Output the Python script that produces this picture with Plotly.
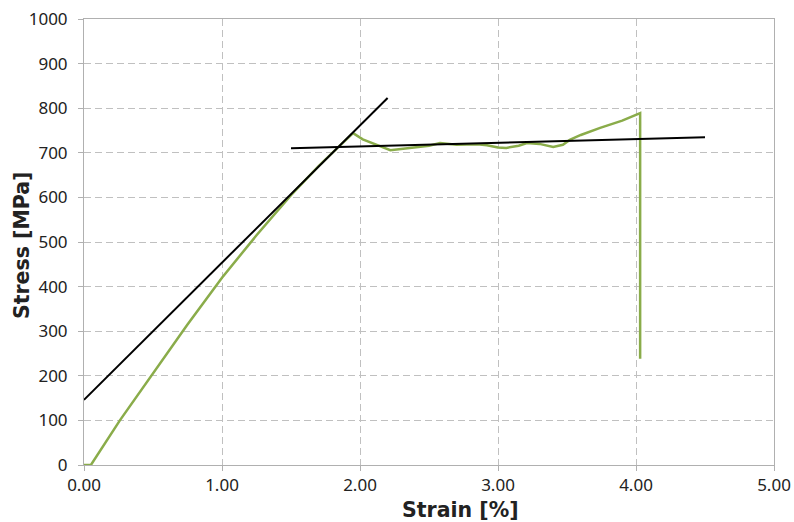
import plotly.graph_objects as go

strain = [0.0, 0.05, 0.26, 0.5, 0.75, 1.0, 1.25, 1.5, 1.7, 1.85, 1.95, 2.02, 2.13, 2.22, 2.36, 2.5, 2.58, 2.7, 2.85, 2.92, 3.0, 3.06, 3.15, 3.21, 3.3, 3.4, 3.47, 3.52, 3.6, 3.74, 3.9, 4.03, 4.03]
stress = [0.0, 0.0, 100, 205, 315, 420, 515, 605, 670, 715, 744, 730, 717, 706, 711, 716, 722, 718, 719, 717, 712, 711, 716, 722, 720, 713, 718, 729, 740, 756, 772, 789, 238]

tangent_x = [0.0, 2.2]
tangent_y = [146, 823]
plateau_x = [1.5, 4.5]
plateau_y = [710, 735]

x_ticks = [0, 1, 2, 3, 4, 5]
y_ticks = list(range(0, 1001, 100))

x_title = "Strain [%]"
y_title = "Stress [MPa]"

fig = go.Figure()
fig.add_trace(go.Scatter(x=strain, y=stress, mode="lines",
                         line=dict(color="#8aac4a", width=2.5), showlegend=False))
fig.add_trace(go.Scatter(x=tangent_x, y=tangent_y, mode="lines",
                         line=dict(color="black", width=2), showlegend=False))
fig.add_trace(go.Scatter(x=plateau_x, y=plateau_y, mode="lines",
                         line=dict(color="black", width=2), showlegend=False))

axis_common = dict(showline=True, linecolor="#b0b0b0", linewidth=1, mirror=True,
                   showgrid=True, gridcolor="#c0c0c0", griddash="7px,4px", gridwidth=1,
                   ticks="outside", ticklen=5, tickcolor="#b0b0b0", zeroline=False,
                   automargin=False,
                   tickfont=dict(family="Noto Sans", size=17, color="#222222"))

fig.update_xaxes(range=[0, 5], tickvals=x_ticks, tickformat=".2f", **axis_common)
fig.update_yaxes(range=[0, 1000], tickvals=y_ticks, ticklabelstandoff=7, **axis_common)

title_font = dict(family="DejaVu Sans", size=20.5, color="#222222")
fig.add_annotation(text="<b>" + x_title + "</b>", xref="paper", yref="paper",
                   x=0.546, y=-0.101, xanchor="center", yanchor="middle",
                   showarrow=False, font=title_font)
fig.add_annotation(text="<b>" + y_title + "</b>", xref="paper", yref="paper",
                   x=-0.0899, y=0.493, xanchor="center", yanchor="middle",
                   textangle=-90, showarrow=False, font=title_font)

fig.update_layout(width=794, height=522, margin=dict(l=84, r=20, t=19, b=57),
                  plot_bgcolor="white", paper_bgcolor="white")

fig.write_html("out.html", config={"displayModeBar": False},
               post_script="document.body.style.margin='0';")
